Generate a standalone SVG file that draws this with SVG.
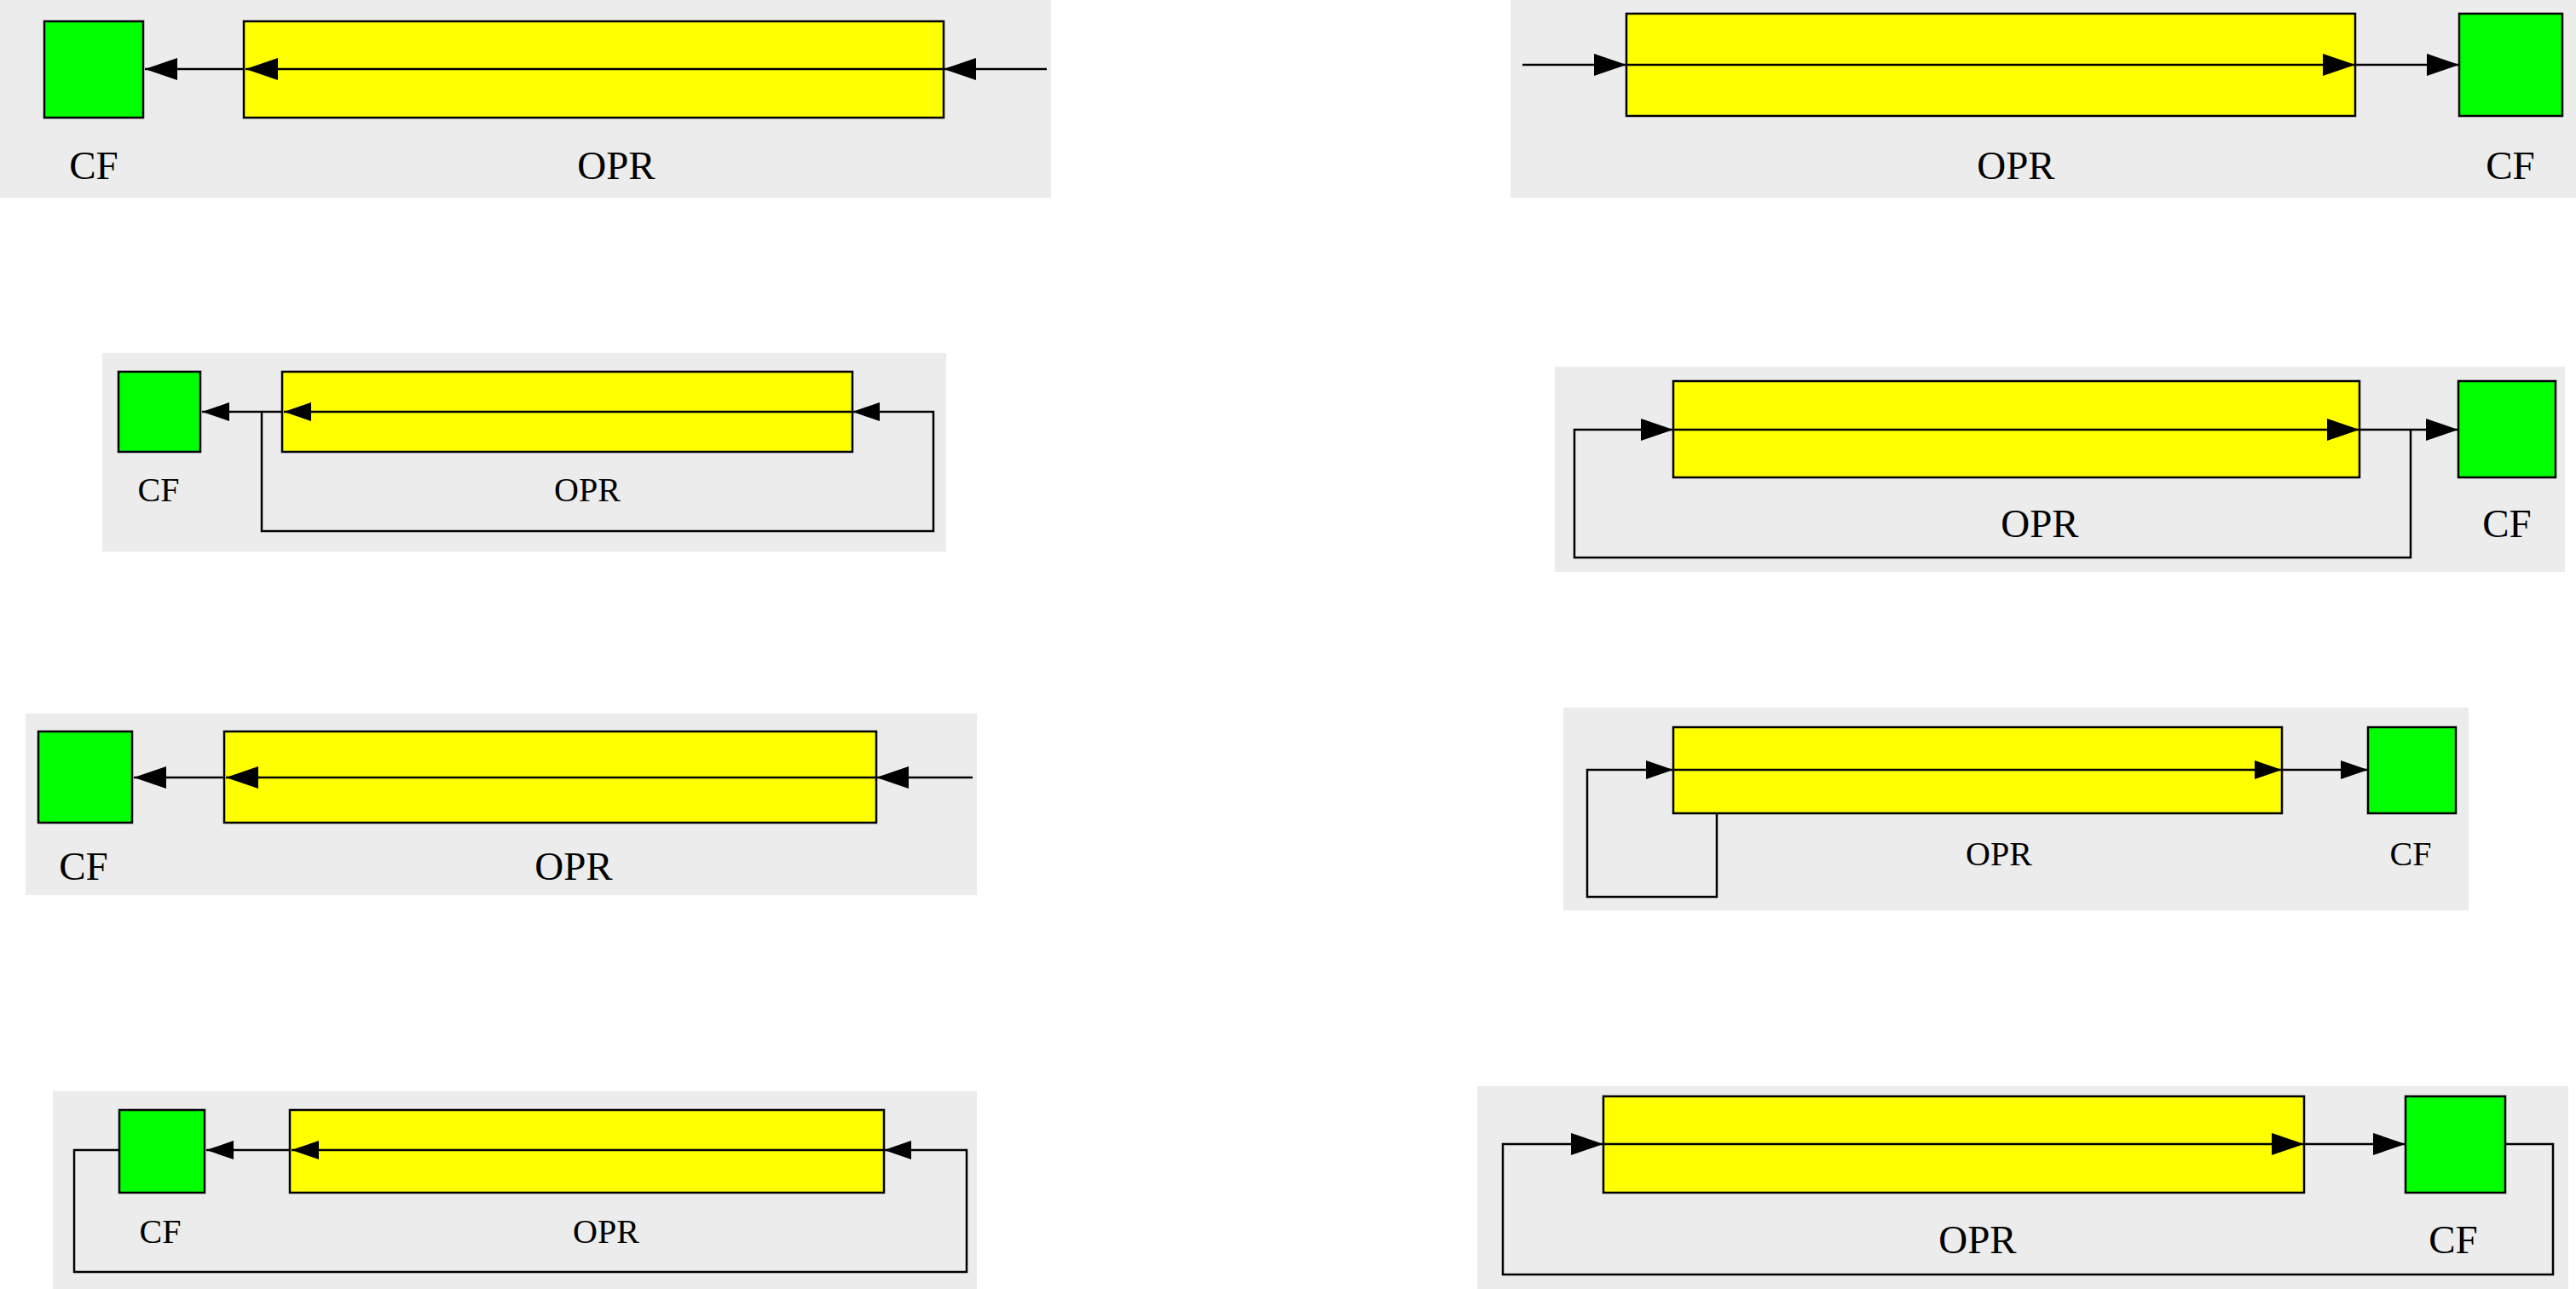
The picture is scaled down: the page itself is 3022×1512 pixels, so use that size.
<svg xmlns="http://www.w3.org/2000/svg" width="3022" height="1512" viewBox="0 0 3022 1512">
<style>
.bg{fill:#ececec;stroke:none}
.cf{fill:#00ff00;stroke:#000;stroke-width:2.5}
.opr{fill:#ffff00;stroke:#000;stroke-width:2.5}
.e{fill:none;stroke:#000;stroke-width:2.5}
.big{marker-end:url(#ab)}
.sm{marker-end:url(#as)}
.t{font-family:"Liberation Serif","Times New Roman",serif;fill:#000;text-anchor:middle}
.tl{font-size:47px}
.ts{font-size:40px}
</style>
<defs>
<marker id="ab" markerUnits="userSpaceOnUse" markerWidth="38" markerHeight="26" refX="38" refY="13" orient="auto"><path d="M0,0 L38,13 L0,26 z" fill="#000"/></marker>
<marker id="as" markerUnits="userSpaceOnUse" markerWidth="32" markerHeight="22" refX="32" refY="11" orient="auto"><path d="M0,0 L32,11 L0,22 z" fill="#000"/></marker>
</defs>
<g id="backgrounds">
<rect class="bg" x="0" y="0" width="1233" height="232"/>
<rect class="bg" x="1772" y="0" width="1250" height="232"/>
<rect class="bg" x="120" y="414" width="990" height="233"/>
<rect class="bg" x="1824" y="430" width="1185" height="241"/>
<rect class="bg" x="30" y="837" width="1116" height="213"/>
<rect class="bg" x="1834" y="830" width="1062" height="238"/>
<rect class="bg" x="62" y="1280" width="1084" height="232"/>
<rect class="bg" x="1733" y="1274" width="1280" height="238"/>
</g>
<g id="nodes">
<g id="p1-cf"><rect class="cf" x="52" y="25" width="116" height="113"/><text class="t tl" x="110" y="210">CF</text></g>
<g id="p1-opr"><rect class="opr" x="286" y="25" width="821" height="113"/><text class="t tl" x="723" y="210">OPR</text></g>
<g id="p2-opr"><rect class="opr" x="1908" y="16" width="855" height="120"/><text class="t tl" x="2365" y="210">OPR</text></g>
<g id="p2-cf"><rect class="cf" x="2885" y="16" width="121" height="120"/><text class="t tl" x="2945" y="210">CF</text></g>
<g id="p3-cf"><rect class="cf" x="139" y="436" width="96" height="94"/><text class="t ts" x="186" y="588">CF</text></g>
<g id="p3-opr"><rect class="opr" x="331" y="436" width="669" height="94"/><text class="t ts" x="689" y="588">OPR</text></g>
<g id="p4-opr"><rect class="opr" x="1963" y="447" width="805" height="113"/><text class="t tl" x="2393" y="630">OPR</text></g>
<g id="p4-cf"><rect class="cf" x="2884" y="447" width="114" height="113"/><text class="t tl" x="2941" y="630">CF</text></g>
<g id="p5-cf"><rect class="cf" x="45" y="858" width="110" height="107"/><text class="t tl" x="98" y="1032">CF</text></g>
<g id="p5-opr"><rect class="opr" x="263" y="858" width="765" height="107"/><text class="t tl" x="673" y="1032">OPR</text></g>
<g id="p6-opr"><rect class="opr" x="1963" y="853" width="714" height="101"/><text class="t ts" x="2345" y="1015">OPR</text></g>
<g id="p6-cf"><rect class="cf" x="2778" y="853" width="103" height="101"/><text class="t ts" x="2828" y="1015">CF</text></g>
<g id="p7-cf"><rect class="cf" x="140" y="1302" width="100" height="97"/><text class="t ts" x="188" y="1458">CF</text></g>
<g id="p7-opr"><rect class="opr" x="340" y="1302" width="697" height="97"/><text class="t ts" x="711" y="1458">OPR</text></g>
<g id="p8-opr"><rect class="opr" x="1881" y="1286" width="822" height="113"/><text class="t tl" x="2320" y="1470">OPR</text></g>
<g id="p8-cf"><rect class="cf" x="2822" y="1286" width="117" height="113"/><text class="t tl" x="2878" y="1470">CF</text></g>
</g>
<g id="connectors">
<path class="e big" d="M1228,81 H1107"/>
<path class="e big" d="M1107,81 H288"/>
<path class="e big" d="M286,81 H170"/>
<path class="e big" d="M1786,76 H1908"/>
<path class="e big" d="M1908,76 H2763"/>
<path class="e big" d="M2763,76 H2885"/>
<path class="e sm" d="M1000,483 H333"/>
<path class="e sm" d="M331,483 H237"/>
<path class="e sm" d="M307,483 V623 H1095 V483 H1000"/>
<path class="e big" d="M1963,504 H2768"/>
<path class="e big" d="M2768,504 H2884"/>
<path class="e big" d="M2828,504 V654 H1847 V504 H1963"/>
<path class="e big" d="M1141,912 H1028"/>
<path class="e big" d="M1028,912 H265"/>
<path class="e big" d="M263,912 H157"/>
<path class="e sm" d="M1963,903 H2677"/>
<path class="e sm" d="M2677,903 H2778"/>
<path class="e sm" d="M2014,954 V1052 H1862 V903 H1963"/>
<path class="e sm" d="M1037,1349 H342"/>
<path class="e sm" d="M340,1349 H242"/>
<path class="e sm" d="M140,1349 H87 V1492 H1134 V1349 H1037"/>
<path class="e big" d="M1881,1342 H2703"/>
<path class="e big" d="M2703,1342 H2822"/>
<path class="e big" d="M2939,1342 H2995 V1495 H1763 V1342 H1881"/>
</g>
</svg>
